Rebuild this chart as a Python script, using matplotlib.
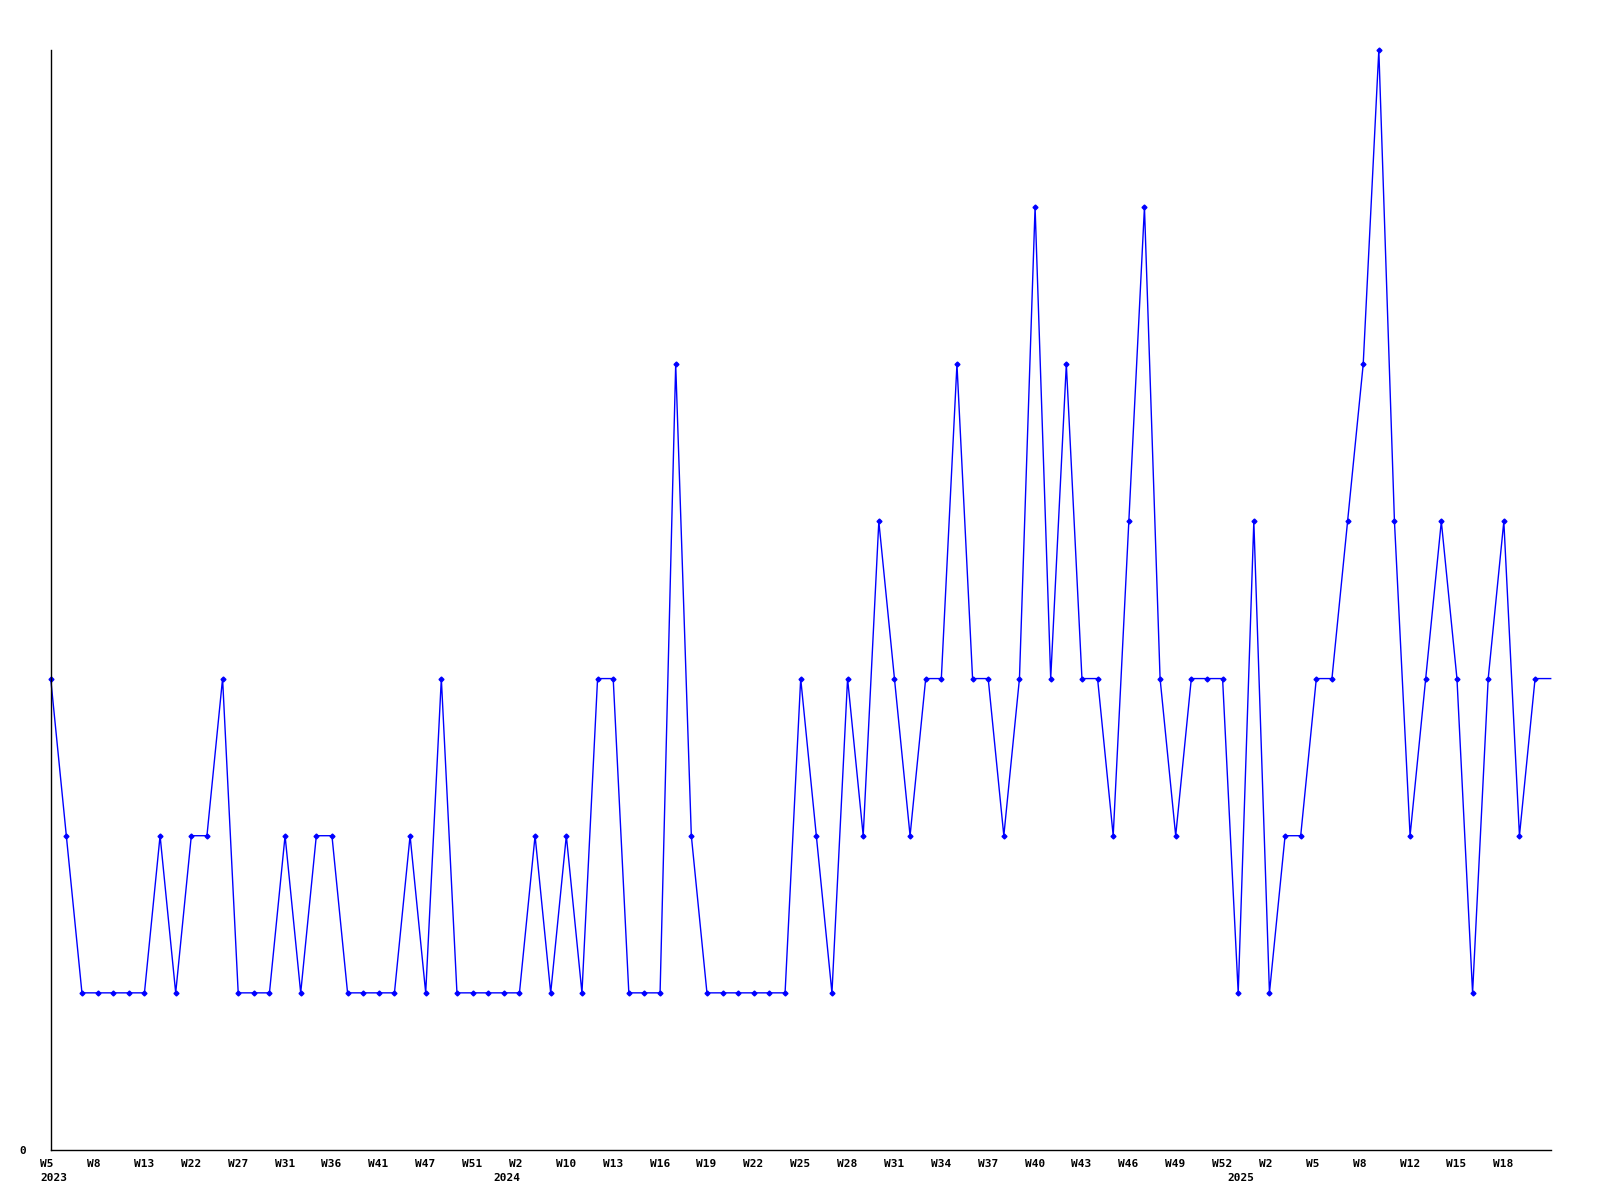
import numpy as np
import matplotlib
matplotlib.use('Agg')
import matplotlib.pyplot as plt
from matplotlib.transforms import ScaledTranslation

# Weekly counts, one value per data point
values = [3, 2, 1, 1, 1, 1, 1, 2, 1, 2,
          2, 3, 1, 1, 1, 2, 1, 2, 2, 1,
          1, 1, 1, 2, 1, 3, 1, 1, 1, 1,
          1, 2, 1, 2, 1, 3, 3, 1, 1, 1,
          5, 2, 1, 1, 1, 1, 1, 1, 3, 2,
          1, 3, 2, 4, 3, 2, 3, 3, 5, 3,
          3, 2, 3, 6, 3, 5, 3, 3, 2, 4,
          6, 3, 2, 3, 3, 3, 1, 4, 1, 2,
          2, 3, 3, 4, 5, 7, 4, 2, 3, 4,
          3, 1, 3, 4, 2, 3, 3]

# Week labels, every third point
week_labels = ['W5', 'W8', 'W13', 'W22', 'W27', 'W31', 'W36', 'W41', 'W47', 'W51',
               'W2', 'W10', 'W13', 'W16', 'W19', 'W22', 'W25', 'W28', 'W31', 'W34',
               'W37', 'W40', 'W43', 'W46', 'W49', 'W52',
               'W2', 'W5', 'W8', 'W12', 'W15', 'W18']

# Year labels and the point index where each year starts
years = ['2023', '2024', '2025']
year_start = [0, 29, 76]

x = np.arange(len(values))
font = dict(family='DejaVu Sans Mono', weight='bold', size=8)

fig = plt.figure(figsize=(16, 12), dpi=100)
ax = fig.add_axes([50.7 / 1600, 50 / 1200, 1500 / 1600, 1100 / 1200])

ax.plot(x, values, color='#0000ff', linewidth=1, marker='D', markersize=2.5,
        markevery=list(range(len(values) - 1)), clip_on=False)

ax.set_xlim(0, len(values) - 1)
ax.set_ylim(0, 7)

for side in ['top', 'right']:
    ax.spines[side].set_visible(False)
for side in ['left', 'bottom']:
    ax.spines[side].set_linewidth(1.0)
    ax.spines[side].set_color('black')

ax.set_xticks(x[::3][:len(week_labels)])
ax.set_xticklabels(week_labels, ha='left', **font)
ax.set_yticks([0])
ax.set_yticklabels(['0'], **font)
ax.tick_params(axis='x', length=0, pad=6.5)
ax.tick_params(axis='y', length=0, pad=18)

# shift week labels so they start a bit left of their point
shift = ScaledTranslation(-10.5 / 100, 0, fig.dpi_scale_trans)
for lab in ax.get_xticklabels():
    lab.set_transform(lab.get_transform() + shift)

for yr, i in zip(years, year_start):
    ax.annotate(yr, xy=(i, 0), xycoords=('data', 'axes fraction'),
                xytext=(-10.5, -23), textcoords='offset pixels',
                ha='left', va='top', **font)

fig.savefig('out.png', dpi=100)
